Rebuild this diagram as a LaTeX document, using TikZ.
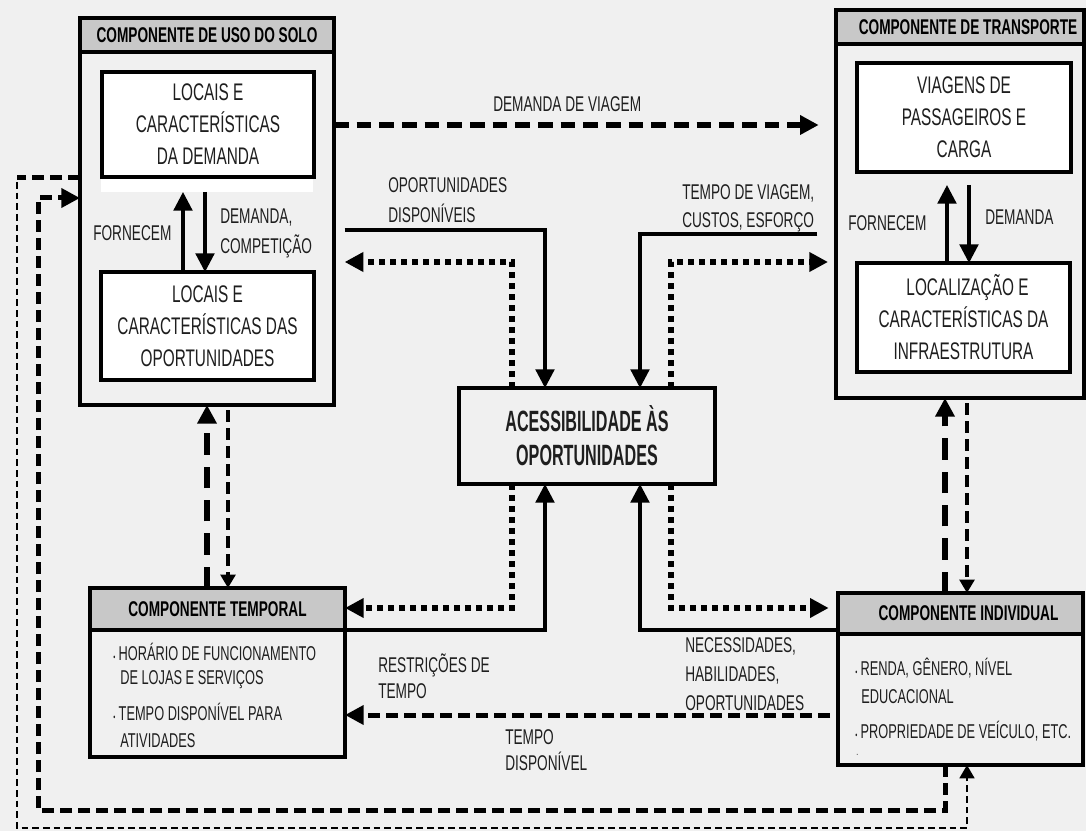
\documentclass[tikz,border=0pt]{standalone}
\usepackage{fontspec}
\setmainfont{Liberation Sans}[FakeStretch=0.64]
\newfontfamily\cfont{Liberation Sans}[FakeStretch=0.55]
\usetikzlibrary{arrows.meta}
\definecolor{bggray}{HTML}{F0F0F0}
\definecolor{hdrgray}{HTML}{C8C8C8}
\definecolor{ink}{HTML}{1E1E1E}
\tikzset{
  wh/.style 2 args={minimum width=#1*0.75pt, minimum height=#2*0.75pt},
  outerbox/.style={draw=black, line width=3pt, inner sep=0pt, outer sep=0pt, anchor=north west},
  innerbox/.style={draw=black, fill=white, line width=3.5pt, inner sep=0pt, outer sep=0pt, anchor=north west, align=center, text=ink, font=\fontsize{18}{24}\selectfont},
  hdrbox/.style={draw=black, fill=hdrgray, line width=3pt, inner sep=0pt, outer sep=0pt, anchor=north west, font=\bfseries\fontsize{16}{18}\selectfont},
  lbl/.style={align=left, anchor=west, inner sep=0pt, text=ink, font=\fontsize{16}{21.5}\selectfont},
  itm/.style={anchor=west, inner sep=0pt, text=ink, font=\fontsize{15}{21}\selectfont},
  bigtip/.style={-{Triangle[length=14pt,width=14pt]}},
  smalltip/.style={-{Triangle[length=10pt,width=11pt]}},
  solidline/.style={line width=2.4pt},
  dotline/.style={line width=4.5pt, dash pattern=on 4.5pt off 3.75pt},
  demdash/.style={line width=4.5pt, dash pattern=on 11pt off 6pt},
  bigdash/.style={line width=5pt, dash pattern=on 16pt off 9pt},
  meddash/.style={line width=3.75pt, dash pattern=on 9pt off 4.5pt},
  thindash/.style={line width=3pt, dash pattern=on 9pt off 4.5pt},
  finedash/.style={line width=2pt, dash pattern=on 5pt off 3pt},
}
\begin{document}
\begin{tikzpicture}[x=0.75pt,y=-0.75pt]
\fill[bggray] (0,0) rectangle (1086,831);
\useasboundingbox (0,0) rectangle (1086,831);

% ---------- Componente de uso do solo
\node[outerbox, wh={254}{387}] (uso) at (80,18) {};
\node[hdrbox, wh={254}{34}] (usoH) at (80,18) {COMPONENTE DE USO DO SOLO};
\node[fill=white, inner sep=0pt, outer sep=0pt, anchor=north west, wh={212}{15}] (ustrip) at (101,177) {};
\node[innerbox, wh={212}{105}] (u1) at (102,72) {LOCAIS E\\CARACTERÍSTICAS\\DA DEMANDA};
\node[innerbox, wh={213}{108}] (u2) at (101,272) {LOCAIS E\\CARACTERÍSTICAS DAS\\OPORTUNIDADES};

% ---------- Componente de transporte
\node[outerbox, wh={248}{388}] (transp) at (836,10) {};
\node[hdrbox, wh={248}{34}] (transpH) at (836,10) {\hspace*{12pt}COMPONENTE DE TRANSPORTE};
\node[innerbox, wh={214}{109}] (t1) at (857,63) {VIAGENS DE\\PASSAGEIROS E\\CARGA};
\node[innerbox, wh={213}{109}] (t2) at (857,263) {\hspace*{6pt}LOCALIZAÇÃO E\\CARACTERÍSTICAS DA\\INFRAESTRUTURA};

% ---------- Acessibilidade
\node[draw=black, line width=3.5pt, inner sep=0pt, outer sep=0pt, anchor=north west, wh={256}{96}, align=center, text=ink, font=\cfont\bfseries\fontsize{22}{25.5}\selectfont] (acc) at (459,388) {ACESSIBILIDADE ÀS\\OPORTUNIDADES};

% ---------- Componente temporal
\node[outerbox, wh={255}{169}] (temp) at (90,588) {};
\node[hdrbox, wh={255}{42}] (tempH) at (90,588) {COMPONENTE TEMPORAL};
\node[itm] (tb1) at (113,652) {{\fontsize{7}{7}\selectfont\textbullet}\,HORÁRIO DE FUNCIONAMENTO};
\node[itm] (tb2) at (120,680) {DE LOJAS E SERVIÇOS};
\node[itm] (tb3) at (113,712) {{\fontsize{7}{7}\selectfont\textbullet}\,TEMPO DISPONÍVEL PARA};
\node[itm] (tb4) at (120,741) {ATIVIDADES};

% ---------- Componente individual
\node[outerbox, wh={245}{172}] (indiv) at (838,593) {};
\node[hdrbox, wh={245}{41}] (indivH) at (838,593) {\hspace*{12pt}COMPONENTE INDIVIDUAL};
\node[itm] (ib1) at (855,668) {{\fontsize{7}{7}\selectfont\textbullet}\,RENDA, GÊNERO, NÍVEL};
\node[itm] (ib2) at (861,697) {EDUCACIONAL};
\node[itm] (ib3) at (855,731) {{\fontsize{7}{7}\selectfont\textbullet}\,PROPRIEDADE DE VEÍCULO, ETC.};
\node[itm, font=\fontsize{8}{8}\selectfont] (ib4) at (856,755) {.};

% ---------- arrows inside boxes
\draw[solidline, bigtip] (u2.north -| 183,0) -- (ustrip.south -| 183,0);
\draw[solidline, bigtip] (ustrip.south -| 205,0) -- (u2.north -| 205,0);
\draw[solidline, bigtip] (t2.north -| 947,0) -- ([yshift=-9.75pt]t1.south -| 947,0);
\draw[solidline, bigtip] ([yshift=-9.75pt]t1.south -| 969,0) -- (t2.north -| 969,0);

% ---------- Demanda de viagem
\draw[demdash, bigtip] (uso.east |- 0,125) -- ([xshift=-13pt]transp.west |- 0,125);

% ---------- around accessibility (top)
\draw[solidline, bigtip] ([xshift=8pt]uso.east |- 0,230) -- (545,230) -- (acc.north -| 545,0);
\draw[dotline, bigtip] (acc.north -| 512,0) -- (512,262) -- ([xshift=8pt]uso.east |- 0,262);
\draw[solidline, bigtip] ([xshift=-14pt]transp.west |- 0,234) -- (640,234) -- (acc.north -| 640,0);
\draw[dotline, bigtip] (acc.north -| 671,0) -- (671,262) -- ([xshift=-6pt]transp.west |- 0,262);

% ---------- around accessibility (bottom)
\draw[dotline, bigtip] (acc.south -| 512,0) -- (512,608) -- (temp.east |- 0,608);
\draw[solidline, bigtip] (temp.east |- 0,630) -- (545,630) -- (acc.south -| 545,0);
\draw[solidline, bigtip] (indiv.west |- 0,630) -- (640,630) -- (acc.south -| 640,0);
\draw[dotline, bigtip] (acc.south -| 671,0) -- (671,608) -- ([xshift=-7pt]indiv.west |- 0,608);

% ---------- tempo disponivel
\draw[meddash, bigtip] ([xshift=-6pt]indiv.west |- 0,715) -- (temp.east |- 0,715);

% ---------- uso <-> temporal
\draw[bigdash, bigtip] (temp.north -| 207,0) -- (uso.south -| 207,0);
\draw[thindash, smalltip] ([yshift=-4pt]uso.south -| 228,0) -- (temp.north -| 228,0);

% ---------- transporte <-> individual
\draw[bigdash, bigtip] (indiv.north -| 945,0) -- (transp.south -| 945,0);
\draw[thindash, smalltip] ([yshift=-4pt]transp.south -| 967,0) -- (indiv.north -| 967,0);

% ---------- outer loop
\draw[meddash] (uso.west |- 0,178) -- (17,178);
\draw[finedash, smalltip] (17,182) -- (17,828) -- (967,828) -- (indiv.south -| 967,0);

% ---------- inner loop
\draw[meddash, bigtip] (indiv.south -| 945,0) -- (945,810) -- (38,810) -- (38,198) -- (uso.west |- 0,198);

% ---------- labels
\node[lbl] (lDem) at (493,104) {DEMANDA DE VIAGEM};
\node[lbl, font=\fontsize{16}{22.5}\selectfont] (lOpo) at (388,200) {OPORTUNIDADES\\DISPONÍVEIS};
\node[lbl, font=\fontsize{16}{21}\selectfont] (lTem) at (682,208) {TEMPO DE VIAGEM,\\CUSTOS, ESFORÇO};
\node[lbl] (lFu) at (93,233) {FORNECEM};
\node[lbl, font=\fontsize{16}{22.5}\selectfont] (lDC) at (220,233) {DEMANDA,\\COMPETIÇÃO};
\node[lbl] (lFt) at (848,223) {FORNECEM};
\node[lbl] (lDt) at (985,217) {DEMANDA};
\node[lbl, font=\fontsize{16}{19.5}\selectfont] (lRes) at (378,676) {RESTRIÇÕES DE\\TEMPO};
\node[lbl, font=\fontsize{16}{19.5}\selectfont] (lTD) at (505,750) {TEMPO\\DISPONÍVEL};
\node[lbl, font=\fontsize{16}{21.75}\selectfont] (lNec) at (685,674) {NECESSIDADES,\\HABILIDADES,\\OPORTUNIDADES};
\end{tikzpicture}
\end{document}
